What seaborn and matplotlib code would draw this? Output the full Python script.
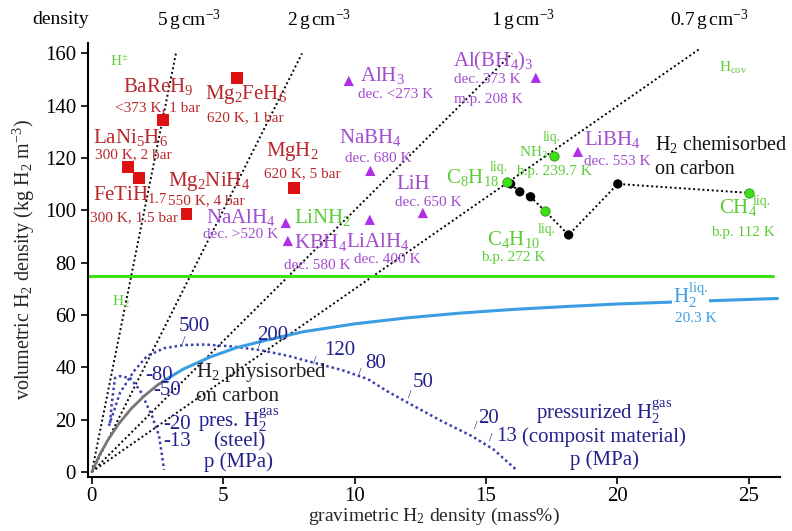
import matplotlib
matplotlib.use('Agg')
import matplotlib.pyplot as plt
import seaborn as sns

# ---- data (gravimetric mass%, volumetric kg H2 m^-3) ----
# metal hydrides (red squares)
metal_x = [2.70, 5.52, 1.37, 1.79, 3.61, 7.69]
metal_y = [134.6, 150.7, 116.6, 112.4, 98.7, 108.6]

# complex hydrides (purple triangles): AlH3, Al(BH4)3, NaBH4, LiH, LiBH4, NaAlH4, KBH4, LiAlH4
complex_x = [9.78, 16.9, 10.6, 12.6, 18.5, 7.38, 7.46, 10.58]
complex_y = [149.5, 150.7, 115.1, 99.0, 122.4, 95.2, 88.3, 96.4]

# liquid fuels (green circles): NH3, C8H18, C4H10, CH4
liquid_x = [17.58, 15.79, 17.24, 25.0]
liquid_y = [120.8, 110.9, 99.8, 106.7]

# H2 chemisorbed on carbon (black dots + dotted path)
chem_path_x = [15.79, 15.94, 16.29, 16.70, 17.24, 18.15, 20.02, 25.0]
chem_path_y = [110.9, 110.1, 107.1, 105.2, 99.8, 90.6, 110.1, 106.7]
chem_x = [15.94, 16.29, 16.70, 18.15, 20.02]
chem_y = [110.1, 107.1, 105.2, 90.6, 110.1]

# liquid hydrogen in container (blue) and physisorbed (grey)
liq_x = [2.8, 3.5, 4.5, 5.5, 6.5, 8, 10, 12, 14, 16, 18, 20, 22, 24, 26.1]
liq_y = [35.2, 39.4, 43.9, 47.5, 50.0, 53.5, 56.6, 58.9, 60.7, 62.1, 63.2, 64.2, 64.9, 65.6, 66.3]
phys_x = [0, 0.3, 0.6, 1.0, 1.5, 2.0, 2.5, 2.8]
phys_y = [0, 6.6, 12.0, 18.1, 24.2, 29.1, 33.2, 35.2]

# pressurized gas, steel cylinder
steel_x = [0.69, 0.76, 0.88, 1.07, 1.45, 1.83, 2.29, 2.56, 2.75]
steel_y = [18.7, 26.3, 35.9, 36.6, 35.9, 31.3, 21.4, 13.7, 0.8]
# pressurized gas, composite cylinder
comp_x = [0.65, 1.07, 1.6, 2.1, 2.75, 3.5, 4.3, 5.3, 6.4, 7.5, 8.5, 9.5, 10.5,
          11.3, 12.2, 13.3, 14.5, 15.3, 16.2]
comp_y = [17.6, 30.2, 38.5, 44.3, 47.3, 48.5, 48.7, 48.0, 46.6, 44.3, 41.6, 39.0,
          35.5, 30.5, 25.5, 19.5, 13.5, 8.5, 0.4]

# pressure labels (MPa)
comp_p = ['500', '200', '120', '80', '50', '20', '13']
comp_tick_x = [3.5, 6.4, 8.5, 10.2, 12.1, 14.6, 15.2]
comp_tick_y = [50.0, 48.5, 42.4, 37.8, 29.4, 17.5, 13.0]
comp_lab_x = [3.9, 6.87, 9.43, 10.8, 12.6, 15.1, 15.8]
comp_lab_y = [55.7, 52.3, 46.6, 41.6, 34.0, 20.6, 13.7]
steel_p = ['80', '50', '20', '13']
steel_lab_x = [2.55, 2.85, 3.25, 3.25]
steel_lab_y = [36.8, 31.0, 18.0, 11.5]

# density lines through the origin (g cm^-3)
dens_labels = ['5', '2', '1', '0.7']
dens_end_x = [3.2, 8.0, 16.0, 23.1]
dens_end_y = [160, 160, 160, 161.5]
dens_lab_x = [3.69, 8.64, 16.4, 23.5]

target_y = 75

# ---- style ----
sns.set_theme(style='ticks')
plt.rcParams['font.family'] = ['Liberation Serif', 'DejaVu Serif']
plt.rcParams['mathtext.fontset'] = 'custom'
plt.rcParams['mathtext.rm'] = 'Liberation Serif'
plt.rcParams['mathtext.it'] = 'Liberation Serif:italic'

RED_M, RED_T = '#dd1111', '#b8282c'
PUR_M, PUR_T = '#b02ee6', '#a24ccf'
GRN_M, GRN_T = '#3fe01a', '#5ccc38'
NAVY = '#22228c'
NAVY_L = '#3a3fb0'
BLUE = '#3b9ee2'

fig = plt.figure(figsize=(7.92, 5.31), dpi=100)
ax = fig.add_axes([0.111, 0.102, 0.874, 0.817])

# density lines
for ex, ey in zip(dens_end_x, dens_end_y):
    sns.lineplot(x=[0, ex], y=[0, ey], ax=ax, color='black', lw=1.4,
                 linestyle=(0, (1, 1.4)), sort=False, estimator=None)

ax.axhline(target_y, xmin=0, xmax=0.99, color=GRN_M, lw=2.2)

sns.lineplot(x=steel_x, y=steel_y, ax=ax, color=NAVY_L, lw=1.8,
             linestyle=(0, (1, 1.2)), sort=False, estimator=None)
sns.lineplot(x=comp_x, y=comp_y, ax=ax, color=NAVY_L, lw=1.8,
             linestyle=(0, (1, 1.2)), sort=False, estimator=None)
sns.lineplot(x=phys_x, y=phys_y, ax=ax, color='#777777', lw=2,
             sort=False, estimator=None)
sns.lineplot(x=liq_x, y=liq_y, ax=ax, color=BLUE, lw=2.2,
             sort=False, estimator=None)
sns.lineplot(x=chem_path_x, y=chem_path_y, ax=ax, color='black', lw=1.4,
             linestyle=(0, (1, 1.4)), sort=False, estimator=None)

sns.scatterplot(x=metal_x, y=metal_y, ax=ax, marker='s', s=70, color=RED_M,
                edgecolor='none', zorder=5)
sns.scatterplot(x=complex_x, y=complex_y, ax=ax, marker='^', s=55, color=PUR_M,
                edgecolor='none', zorder=5)
sns.scatterplot(x=chem_x, y=chem_y, ax=ax, marker='o', s=45, color='black',
                edgecolor='none', zorder=5)
sns.scatterplot(x=liquid_x, y=liquid_y, ax=ax, marker='o', s=45, color=GRN_M,
                edgecolor='#2a9a10', linewidth=0.6, zorder=6)

BIG, SMALL = 15, 11


def lab(x, y, s, color, size, ha='center', **kw):
    ax.text(x, y, s, color=color, fontsize=size, ha=ha, va='center', **kw)


# metal hydride labels
lab(2.51, 147.2, r'BaReH$_9$', RED_T, BIG)
lab(2.51, 139.2, '<373 K, 1 bar', RED_T, SMALL)
lab(5.86, 144.2, r'Mg$_2$FeH$_6$', RED_T, BIG)
lab(5.86, 135.6, '620 K, 1 bar', RED_T, SMALL)
lab(1.48, 128.0, r'LaNi$_5$H$_6$', RED_T, BIG)
lab(1.56, 121.2, '300 K, 2 bar', RED_T, SMALL)
lab(0.05, 105.9, r'FeTiH$_{1.7}$', RED_T, BIG, ha='left')
lab(1.6, 97.1, '300 K, 1.5 bar', RED_T, SMALL)
lab(4.45, 110.9, r'Mg$_2$NiH$_4$', RED_T, BIG)
lab(4.35, 103.6, '550 K, 4 bar', RED_T, SMALL)
lab(7.65, 122.4, r'MgH$_2$', RED_T, BIG)
lab(8.03, 114.0, '620 K, 5 bar', RED_T, SMALL)

# complex hydride labels
lab(10.2, 151.4, r'AlH$_3$', PUR_T, BIG, ha='left')
lab(10.15, 144.4, 'dec. <273 K', PUR_T, SMALL, ha='left')
lab(13.75, 156.8, r'Al(BH$_4$)$_3$', PUR_T, BIG, ha='left')
lab(13.8, 149.9, 'dec. 373 K', PUR_T, SMALL, ha='left')
lab(13.8, 142.3, 'm.p. 208 K', PUR_T, SMALL, ha='left')
lab(10.6, 127.7, r'NaBH$_4$', PUR_T, BIG)
lab(10.9, 120.0, 'dec. 680 K', PUR_T, SMALL)
lab(12.25, 109.8, 'LiH', PUR_T, BIG)
lab(12.8, 103.2, 'dec. 650 K', PUR_T, SMALL)
lab(19.8, 127.0, r'LiBH$_4$', PUR_T, BIG)
lab(20.0, 118.5, 'dec. 553 K', PUR_T, SMALL)
lab(5.67, 97.1, r'NaAlH$_4$', PUR_T, BIG)
lab(5.67, 90.6, 'dec. >520 K', PUR_T, SMALL)
lab(8.71, 87.6, r'KBH$_4$', PUR_T, BIG)
lab(8.6, 78.8, 'dec. 580 K', PUR_T, SMALL)
lab(10.9, 88.0, r'LiAlH$_4$', PUR_T, BIG)
lab(11.26, 81.1, 'dec. 400 K', PUR_T, SMALL)

# liquids and other green labels
lab(8.8, 97.1, r'LiNH$_2$', GRN_T, BIG)
lab(16.8, 122.0, r'NH$_3$', GRN_T, SMALL)
lab(17.5, 127.7, 'liq.', GRN_T, SMALL - 1)
lab(17.6, 114.7, 'b.p. 239.7 K', GRN_T, SMALL)
lab(14.5, 112.4, r'C$_8$H$_{18}$', GRN_T, BIG)
lab(15.5, 116.5, 'liq.', GRN_T, SMALL - 1)
lab(16.06, 88.7, r'C$_4$H$_{10}$', GRN_T, BIG)
lab(17.3, 92.5, 'liq.', GRN_T, SMALL - 1)
lab(16.06, 81.8, 'b.p. 272 K', GRN_T, SMALL)
lab(24.6, 101.0, r'CH$_4$', GRN_T, BIG)
lab(25.5, 103.5, 'liq.', GRN_T, SMALL - 1)
lab(24.8, 91.4, 'b.p. 112 K', GRN_T, SMALL)
lab(1.03, 156.8, r'H$^{\pm}$', GRN_T, SMALL)
lab(24.4, 154.5, r'H$_{\mathrm{cov}}$', GRN_T, SMALL)
lab(1.1, 65.0, r'H$_2$', GRN_T, SMALL)

# carbon / liquid H2
lab(21.45, 125.0, r'H$_2$ chemisorbed', '#111111', 14.5, ha='left')
lab(21.45, 115.5, 'on carbon', '#111111', 14.5, ha='left')
lab(3.96, 37.9, r'H$_2$ physisorbed', '#222222', BIG, ha='left')
lab(3.96, 28.7, 'on carbon', '#222222', BIG, ha='left')
lab(22.8, 67.4, r'H$_2^{\mathrm{liq.}}$', BLUE, BIG,
    bbox=dict(facecolor='white', edgecolor='none', pad=0.5))
lab(23.0, 58.5, '20.3 K', BLUE, SMALL)

# pressurized gas labels
lab(5.6, 19.9, r'pres. H$_2^{\mathrm{gas}}$', NAVY, BIG)
lab(5.6, 11.5, '(steel)', NAVY, BIG)
lab(5.6, 3.8, 'p (MPa)', NAVY, BIG)
lab(19.5, 23.0, r'pressurized H$_2^{\mathrm{gas}}$', NAVY, BIG)
lab(19.5, 13.4, '(composit material)', NAVY, BIG)
lab(19.5, 4.6, 'p (MPa)', NAVY, BIG)

for p, tx, ty, lx, ly in zip(comp_p, comp_tick_x, comp_tick_y, comp_lab_x, comp_lab_y):
    lab(tx, ty, '/', NAVY, 9)
    lab(lx, ly, p, NAVY, BIG)
for p, lx, ly in zip(steel_p, steel_lab_x, steel_lab_y):
    lab(lx, ly, '-' + p, NAVY, BIG)

# density labels above the frame
top_y = 172.8
lab(-1.2, top_y, 'density', 'black', 14, clip_on=False)
for d, lx in zip(dens_labels, dens_lab_x):
    lab(lx, top_y, d + r'$\,$g$\,$cm$^{-3}$', 'black', 14, clip_on=False)

ax.set_xlim(-0.15, 26.2)
ax.set_ylim(-1.9, 164)
ax.set_xticks([0, 5, 10, 15, 20, 25])
ax.set_yticks(range(0, 161, 20))
sns.despine(ax=ax)
for s in ['left', 'bottom']:
    ax.spines[s].set_color('black')
    ax.spines[s].set_linewidth(1.5)
ax.tick_params(direction='out', length=5, width=1.2, labelsize=15, colors='black')
ax.tick_params(axis='x', pad=2)
ax.set_xlabel(r'gravimetric H$_2$ density (mass%)', fontsize=14, labelpad=0)
ax.set_ylabel(r'volumetric H$_2$ density (kg H$_2$ m$^{-3}$)', fontsize=14.5, labelpad=6)

fig.savefig('out.png', dpi=100)
